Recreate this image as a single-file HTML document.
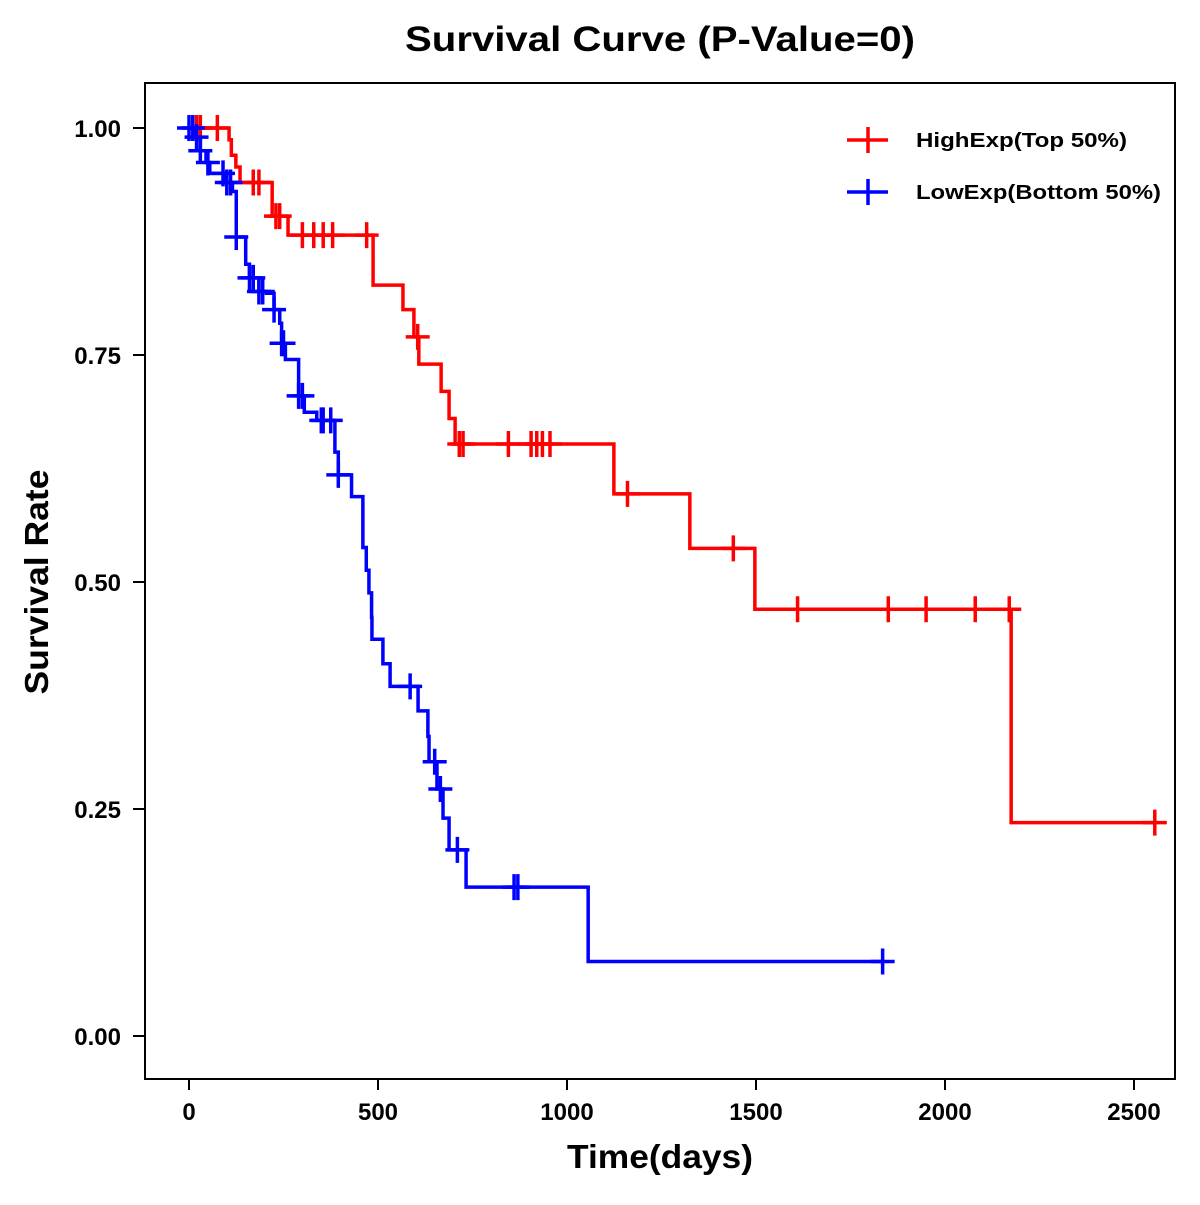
<!DOCTYPE html>
<html><head><meta charset="utf-8"><style>
body{margin:0;background:#fff}
svg text{font-family:"Liberation Sans",Arial,sans-serif;font-weight:bold}
</style></head><body>
<svg id="chart" width="1200" height="1200" viewBox="0 0 1200 1200">
<rect width="1200" height="1200" fill="#fff"/>
<text x="660" y="51" font-size="35" text-anchor="middle" textLength="510" lengthAdjust="spacingAndGlyphs">Survival Curve (P-Value=0)</text>
<rect x="145" y="83" width="1030" height="996" fill="none" stroke="#000" stroke-width="2"/>
<g id="xaxis"></g>
<g id="yaxis"></g>
<text x="660" y="1168" font-size="33" text-anchor="middle" textLength="186" lengthAdjust="spacingAndGlyphs">Time(days)</text>
<text transform="translate(48,582) rotate(-90)" font-size="33" text-anchor="middle" textLength="225" lengthAdjust="spacingAndGlyphs">Survival Rate</text>
<g id="series"></g>
<g>
<g>
<path d="M847 140H888M868 127V153" stroke="#ff0000" stroke-width="3.5"/>
<text x="916" y="147" font-size="20" textLength="211" lengthAdjust="spacingAndGlyphs">HighExp(Top 50%)</text></g>
<g>
<path d="M847 192H888M868 179V205" stroke="#0000ff" stroke-width="3.5"/>
<text x="916" y="199" font-size="20" textLength="245" lengthAdjust="spacingAndGlyphs">LowExp(Bottom 50%)</text></g>
</g>
</svg>
<script>
const xTicks=[0,500,1000,1500,2000,2500];
const yTicks=[0,0.25,0.5,0.75,1.0];
const yTickLabels=["0.00","0.25","0.50","0.75","1.00"];
const highTimes=[106,112,124,135,220,262,487,566,595,608,667,688,704,1124,1325,1497,2175];
const highSurv=[0.987,0.97,0.957,0.94,0.903,0.882,0.827,0.80,0.77,0.74,0.71,0.68,0.652,0.597,0.537,0.47,0.235];
const highCensor=[20,30,75,170,185,230,240,300,330,355,380,470,605,715,725,845,905,920,935,955,1160,1440,1610,1850,1950,2080,2170,2555];
const highEnd=2555;
const lowTimes=[15,30,45,55,95,115,125,150,160,185,205,225,240,245,255,290,305,338,386,395,430,460,469,476,483,484,513,532,606,632,635,656,672,688,733,1056];
const lowSurv=[0.99,0.975,0.962,0.95,0.94,0.93,0.88,0.85,0.835,0.82,0.818,0.80,0.785,0.763,0.745,0.705,0.687,0.678,0.643,0.618,0.594,0.538,0.513,0.488,0.461,0.437,0.41,0.385,0.358,0.33,0.302,0.272,0.24,0.205,0.164,0.082];
const lowCensor=[0,10,20,30,50,90,100,110,125,160,170,185,195,225,245,250,290,300,350,355,375,395,585,650,665,710,860,870,1835];
const lowEnd=1835;
const xs=t=>189+t*0.378;
const ys=s=>1036-s*908;
const NS="http://www.w3.org/2000/svg";
function mk(tag,attrs,parent){const e=document.createElementNS(NS,tag);for(const k in attrs)e.setAttribute(k,attrs[k]);parent.appendChild(e);return e;}
const xa=document.getElementById('xaxis'),ya=document.getElementById('yaxis'),sg=document.getElementById('series');
xTicks.forEach(v=>{
  const l=mk('line',{x1:xs(v),x2:xs(v),y1:1079,y2:1090,stroke:'#000','stroke-width':2},xa);
  
  
  const t=mk('text',{x:xs(v),y:1120,'font-size':24,'text-anchor':'middle'},xa);t.textContent=v;
  
  
});
yTicks.forEach((v,i)=>{
  const l=mk('line',{x1:133,x2:145,y1:ys(v),y2:ys(v),stroke:'#000','stroke-width':2},ya);
  
  
  const t=mk('text',{x:121,y:ys(v)+9,'font-size':24,'text-anchor':'end'},ya);t.textContent=yTickLabels[i];
  
  
});
function drawSeries(times,surv,cens,end,color,name){
  const g=mk('g',{},sg);
  
  
  let d='M'+xs(0)+' '+ys(1);
  times.forEach((t,i)=>{d+='H'+xs(t)+'V'+ys(surv[i]);});
  d+='H'+xs(end);
  const p=mk('path',{d:d,fill:'none',stroke:color,'stroke-width':3.5},g);
  
  
  const sAt=t=>{let s=1;times.forEach((tt,i)=>{if(tt<=t)s=surv[i];});return s;};
  cens.forEach(t=>{
    const x=xs(t),y=ys(sAt(t));
    const c=mk('path',{d:`M${x-12} ${y}H${x+12}M${x} ${y-13}V${y+13}`,stroke:color,'stroke-width':3.5},g);
    
    
  });
}
drawSeries(highTimes,highSurv,highCensor,highEnd,'#ff0000','high-exp-series');
drawSeries(lowTimes,lowSurv,lowCensor,lowEnd,'#0000ff','low-exp-series');
</script>
</body></html>
